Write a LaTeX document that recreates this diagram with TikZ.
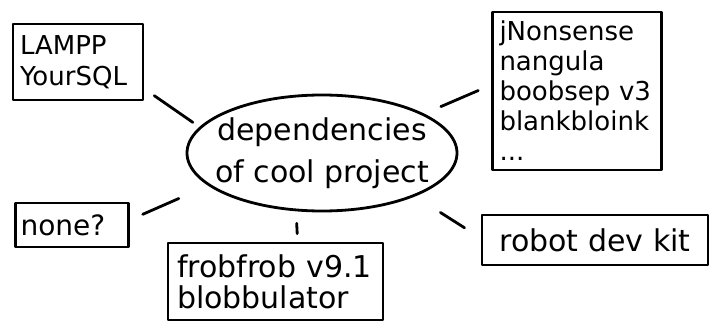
\documentclass[tikz,border=0pt]{standalone}
\usepackage{fontspec}
\setmainfont{DejaVu Sans}
\usetikzlibrary{shapes.geometric}
\begin{document}
\begin{tikzpicture}[x=1pt,y=-1pt,
  box/.style={draw=black, line width=2.8pt, inner sep=0pt, align=left, line join=round},
  link/.style={draw=black, line width=2.8pt, line cap=round}]
\useasboundingbox (0,0) rectangle (717,324);
\node[draw=black, line width=2.8pt, ellipse, inner xsep=-14pt, inner ysep=-4pt,
      minimum width=270pt, minimum height=116pt,
      font=\fontsize{30}{42}\selectfont, align=center] (ell) at (322,153) {dependencies\\of cool project};
\node[box, minimum width=130pt, minimum height=76pt, font=\fontsize{26}{31}\selectfont, text width=116pt] (lampp) at (78,62) {LAMPP\\YourSQL};
\node[box, minimum width=169pt, minimum height=158pt, font=\fontsize{26}{30}\selectfont, text width=155pt] (rbox) at (577,91) {jNonsense\\nangula\\boobsep v3\\blankbloink\\...};
\node[box, minimum width=113pt, minimum height=44pt, font=\fontsize{28}{30}\selectfont, text width=103pt] (none) at (72,225) {none?};
\node[box, minimum width=215pt, minimum height=77pt, font=\fontsize{30}{31}\selectfont, text width=197pt] (fb) at (275.5,281.5) {frobfrob v9.1\\blobbulator};
\node[box, minimum width=226pt, minimum height=50pt, font=\fontsize{30}{30}\selectfont, align=center] (robot) at (595,240) {robot dev kit};
\draw[link, shorten <=8pt, shorten >=12pt] (ell.168) -- (lampp.-22);
\draw[link, shorten <=18pt, shorten >=14pt] (ell.21) -- (rbox.176);
\draw[link, shorten <=32pt, shorten >=14pt] (ell.196) -- (none.5);
\draw[link, shorten <=12pt, shorten >=8pt] (ell.246) -- (fb.61);
\draw[link, shorten <=30pt, shorten >=19pt] (ell.-25) -- (robot.179);
\end{tikzpicture}
\end{document}
